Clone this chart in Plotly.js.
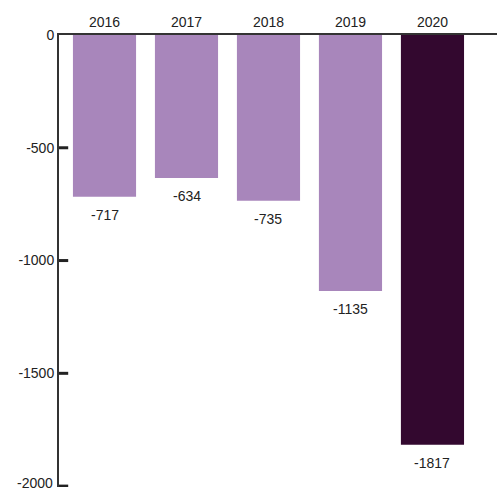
<!DOCTYPE html>
<html><head><meta charset="utf-8">
<script src="https://cdn.plot.ly/plotly-3.0.1.min.js"></script>
<style>html,body{margin:0;padding:0;background:#fff}#c{width:497px;height:490px}</style>
</head><body><div id="c"></div>
<script>
const years = ['2016','2017','2018','2019','2020'];
const values = [-717, -634, -735, -1135, -1817];
const barColors = ['#a886bb','#a886bb','#a886bb','#a886bb','#33082f'];
const yTicks = [0, -500, -1000, -1500, -2000];

const FONT = 'Liberation Sans, Arial, sans-serif';
const trace = {
  type: 'bar', x: years, y: values,
  marker: {color: barColors, line: {width: 0}},
  hoverinfo: 'none'
};
const annotations = years.map((yr, i) => ({
  x: i, y: values[i], xref: 'x', yref: 'y',
  text: String(values[i]), showarrow: false,
  xanchor: 'center', yanchor: 'top', yshift: -8,
  font: {family: FONT, size: 14, color: '#222'}
}));
annotations.push({
  x: 0, y: -2000, xref: 'paper', yref: 'y', text: '-2000', showarrow: false,
  xanchor: 'right', yanchor: 'middle', xshift: -4, yshift: 3,
  font: {family: FONT, size: 14, color: '#222'}
});
const shapes = yTicks.filter(v => v !== 0).map(v => ({
  type: 'line', xref: 'paper', yref: 'y',
  x0: 0, x1: 0.021, y0: v, y1: v, layer: 'above',
  line: {color: '#222', width: 3}
}));
const layout = {
  width: 497, height: 490,
  margin: {l: 59, r: 0, t: 35, b: 3},
  paper_bgcolor: '#fff', plot_bgcolor: '#fff',
  showlegend: false, bargap: 0.23,
  font: {family: FONT, size: 14, color: '#222'},
  xaxis: {
    type: 'category', side: 'top', range: [-0.555, 4.787],
    showline: true, linecolor: '#333', linewidth: 2,
    ticks: '', showgrid: false, zeroline: false,
    tickfont: {size: 14, color: '#222'}
  },
  yaxis: {
    range: [-2004, 0], tickvals: yTicks.slice(0, 4), ticktext: yTicks.slice(0, 4).map(String),
    showline: true, linecolor: '#333', linewidth: 2,
    ticks: 'inside', ticklen: 9, tickwidth: 2, tickcolor: '#222',
    showgrid: false, zeroline: false,
    tickfont: {size: 14, color: '#222'}
  },
  annotations: annotations,
  shapes: shapes
};
Plotly.newPlot('c', [trace], layout, {displayModeBar: false, staticPlot: true});
</script></body></html>
